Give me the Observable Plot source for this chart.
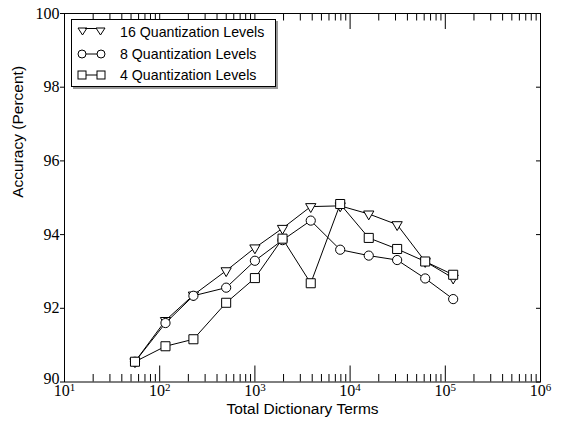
<!DOCTYPE html>
<html>
<head>
<meta charset="utf-8">
<script src="https://cdn.jsdelivr.net/npm/d3@7"></script>
<script src="https://cdn.jsdelivr.net/npm/@observablehq/plot@0.6"></script>
<style>
  html, body { margin: 0; padding: 0; background: #fff; }
  #wrap { position: relative; width: 563px; height: 423px; }
  #legend {
    position: absolute; left: 71px; top: 19px; width: 203px; height: 66px;
    border: 1px solid #000; background: #fff; box-shadow: 2px 2px 0 #999;
    font-family: "Liberation Sans", Arial, sans-serif; font-size: 14.2px; color: #000;
  }
  .row { position: absolute; left: 0; height: 20px; display: flex; align-items: center; }
  .row svg { margin-left: 5px; }
  .row span { margin-left: 13px; }
  svg g.serif-ticks text, svg g.serif-ticks tspan { font-family: "Liberation Serif", "Times New Roman", "DejaVu Serif", serif !important; }
</style>
</head>
<body>
<div id="wrap"></div>
<script>
// Data
const terms = [55, 115, 226, 499, 1000, 1950, 3860, 7870, 15700, 31200, 61500, 121000];
const acc16 = [90.55, 91.67, 92.36, 93.02, 93.64, 94.17, 94.76, 94.78, 94.56, 94.27, 93.27, 92.82];
const acc8  = [90.55, 91.60, 92.34, 92.56, 93.29, 93.85, 94.38, 93.59, 93.43, 93.31, 92.81, 92.25];
const acc4  = [90.55, 90.97, 91.16, 92.15, 92.82, 93.89, 92.68, 94.83, 93.91, 93.61, 93.27, 92.91];
const seriesNames = ["16 Quantization Levels", "8 Quantization Levels", "4 Quantization Levels"];
const xMajorTicks = [10, 100, 1000, 10000, 100000, 1000000];
const minorMultiples = [2, 3, 4, 5, 6, 7, 8, 9];
const yTicks = [90, 92, 94, 96, 98, 100];
const xLabel = "Total Dictionary Terms";
const yLabel = "Accuracy (Percent)";

const xMinorTicks = xMajorTicks.slice(0, -1).flatMap(d => minorMultiples.map(m => d * m));

const downTriangle = {
  draw(context, size) {
    const y = Math.sqrt(size / (Math.sqrt(3) * 3));
    const s3 = Math.sqrt(3);
    context.moveTo(0, 2 * y);
    context.lineTo(-s3 * y, -y);
    context.lineTo(s3 * y, -y);
    context.closePath();
  }
};

const mk = (vals) => terms.map((t, i) => ({x: t, y: vals[i]}));
const d16 = mk(acc16), d8 = mk(acc8), d4 = mk(acc4);

const W = 563, H = 423, mL = 64, mR = 23, mT = 13, mB = 41.5;
const innerW = W - mL - mR, innerH = H - mT - mB;
const sans = "Liberation Sans, Arial, sans-serif";

const chart = Plot.plot({
  width: W, height: H,
  marginLeft: mL, marginRight: mR, marginTop: mT, marginBottom: mB,
  style: {fontSize: "16px", color: "#000", background: "#fff"},
  x: {type: "log", domain: [10, 1e6]},
  y: {domain: [90, 100]},
  marks: [
    Plot.axisY({ticks: yTicks, tickSize: 4, tickPadding: 1, label: null, fontSize: 16, fontFamily: "Liberation Serif"}),
    Plot.axisX({ticks: xMajorTicks, tickSize: 0, tickPadding: 3, label: null, fontSize: 16, fontFamily: "Liberation Serif",
      tickFormat: d => "10^" + Math.round(Math.log10(d))}),
    // inward ticks
    Plot.tickY(yTicks, {y: d => d, insetLeft: innerW - 4, stroke: "#000"}),
    Plot.tickX(xMajorTicks, {x: d => d, insetTop: innerH - 16, stroke: "#000"}),
    Plot.tickX(xMinorTicks, {x: d => d, insetTop: innerH - 7.5, stroke: "#000"}),
    Plot.tickX(xMajorTicks, {x: d => d, insetBottom: innerH - 16, stroke: "#000"}),
    Plot.tickX(xMinorTicks, {x: d => d, insetBottom: innerH - 7.5, stroke: "#000"}),
    Plot.frame({stroke: "#000"}),
    // series 16
    Plot.line(d16, {x: "x", y: "y", stroke: "#000", strokeWidth: 1}),
    Plot.dot(d16, {x: "x", y: "y", symbol: downTriangle, r: 3.8, fill: "#fff", stroke: "#000", strokeWidth: 1}),
    // series 8
    Plot.line(d8, {x: "x", y: "y", stroke: "#000", strokeWidth: 1}),
    Plot.dot(d8, {x: "x", y: "y", symbol: "circle", r: 4.6, fill: "#fff", stroke: "#000", strokeWidth: 1}),
    // series 4
    Plot.line(d4, {x: "x", y: "y", stroke: "#000", strokeWidth: 1}),
    Plot.dot(d4, {x: "x", y: "y", symbol: "square", r: 5.1, fill: "#fff", stroke: "#000", strokeWidth: 1}),
    // axis titles
    Plot.text([xLabel], {text: d => d, frameAnchor: "bottom", dy: 32, fontFamily: sans, fontSize: 15.5, fill: "#000"}),
    Plot.text([yLabel], {text: d => d, frameAnchor: "left", rotate: -90, dx: -46, fontFamily: sans, fontSize: 15.5, fill: "#000"})
  ]
});

// serif tick labels
d3.select(chart).selectAll('g[aria-label="x-axis tick label"], g[aria-label="y-axis tick label"]')
  .classed("serif-ticks", true);

// raise the lowest y label slightly, as in the reference
d3.select(chart).selectAll('g[aria-label="y-axis tick label"] text')
  .filter(function() { return d3.select(this).text() === String(yTicks[0]); })
  .attr("y", "0.1em");

// superscript exponents on x tick labels
d3.select(chart).selectAll('g[aria-label="x-axis tick label"] text').each(function() {
  const t = d3.select(this);
  const s = t.text();
  const [base, exp] = s.split("^");
  t.text(null);
  t.append("tspan").text(base);
  t.append("tspan").attr("dy", "-0.45em").attr("font-size", "11px").text(exp);
});

const wrap = document.getElementById("wrap");
wrap.appendChild(chart);

// legend
const legend = document.createElement("div");
legend.id = "legend";
const legendSymbols = [
  '<path d="M1,1 L10,1 L5.5,8 Z" fill="#fff" stroke="#000"/><line x1="8" y1="1.5" x2="22" y2="1.5" stroke="#000"/><path d="M19,1 L28,1 L23.5,8 Z" fill="#fff" stroke="#000"/>',
  '<line x1="5" y1="5" x2="24" y2="5" stroke="#000"/><circle cx="5" cy="5" r="4" fill="#fff" stroke="#000"/><circle cx="24" cy="5" r="4" fill="#fff" stroke="#000"/>',
  '<line x1="5" y1="5" x2="24" y2="5" stroke="#000"/><rect x="1" y="1" width="8" height="8" fill="#fff" stroke="#000"/><rect x="20" y="1" width="8" height="8" fill="#fff" stroke="#000"/>'
];
const rowTops = [2, 24, 45];
seriesNames.forEach((name, i) => {
  const row = document.createElement("div");
  row.className = "row";
  row.style.top = rowTops[i] + "px";
  row.innerHTML = `<svg width="30" height="10" viewBox="0 0 30 10" style="overflow:visible">${legendSymbols[i]}</svg><span>${name}</span>`;
  legend.appendChild(row);
});
wrap.appendChild(legend);
</script>
</body>
</html>
